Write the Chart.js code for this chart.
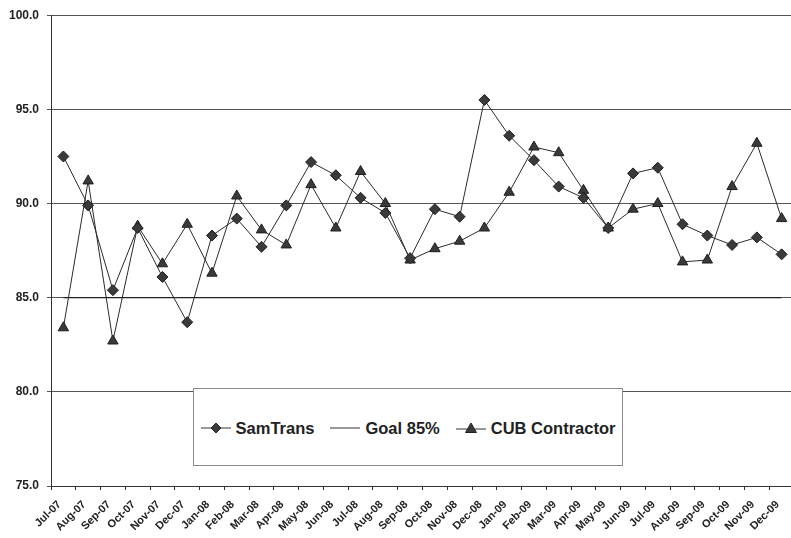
<!DOCTYPE html>
<html>
<head>
<meta charset="utf-8">
<script src="https://cdn.jsdelivr.net/npm/chart.js@4/dist/chart.umd.min.js"></script>
<style>
  html, body { margin: 0; padding: 0; overflow: hidden; background: #fff; }
  #wrap { position: relative; width: 801px; height: 538px; }
  #legend {
    position: absolute; left: 193px; top: 388px; width: 430px; height: 78px;
    box-sizing: border-box; border: 1px solid #8a8a8a; background: #fff;
    display: flex; align-items: center; justify-content: center; gap: 16px;
    padding-top: 2px;
    font: bold 16.5px "Liberation Sans", Arial, sans-serif; color: #222;
  }
  #legend span.item { display: flex; align-items: center; gap: 5px; }
</style>
</head>
<body>
<div id="wrap">
  <canvas id="myChart" width="801" height="538"></canvas>
  <div id="legend">
    <span class="item">
      <svg width="30" height="14"><line x1="0" y1="7" x2="30" y2="7" stroke="#333" stroke-width="1"/><polygon points="15,2 20,7 15,12 10,7" fill="#3a3a3a" stroke="#222"/></svg>
      SamTrans
    </span>
    <span class="item">
      <svg width="30" height="14"><line x1="0" y1="7" x2="30" y2="7" stroke="#333" stroke-width="1"/></svg>
      Goal 85%
    </span>
    <span class="item">
      <svg width="30" height="14"><line x1="0" y1="8" x2="30" y2="8" stroke="#333" stroke-width="1"/><polygon points="15,2 20.5,11.5 9.5,11.5" fill="#3a3a3a" stroke="#222"/></svg>
      CUB Contractor
    </span>
  </div>
</div>
<script>
const months = [
  "Jul-07", "Aug-07", "Sep-07", "Oct-07", "Nov-07", "Dec-07",
  "Jan-08", "Feb-08", "Mar-08", "Apr-08", "May-08", "Jun-08",
  "Jul-08", "Aug-08", "Sep-08", "Oct-08", "Nov-08", "Dec-08",
  "Jan-09", "Feb-09", "Mar-09", "Apr-09", "May-09", "Jun-09",
  "Jul-09", "Aug-09", "Sep-09", "Oct-09", "Nov-09", "Dec-09",
];

const samTrans = [
  92.5, 89.9, 85.4, 88.7, 86.1, 83.7,
  88.3, 89.2, 87.7, 89.9, 92.2, 91.5,
  90.3, 89.5, 87.1, 89.7, 89.3, 95.5,
  93.6, 92.3, 90.9, 90.3, 88.7, 91.6,
  91.9, 88.9, 88.3, 87.8, 88.2, 87.3,
];

const cubContractor = [
  83.4, 91.2, 82.7, 88.8, 86.8, 88.9,
  86.3, 90.4, 88.6, 87.8, 91.0, 88.7,
  91.7, 90.0, 87.0, 87.6, 88.0, 88.7,
  90.6, 93.0, 92.7, 90.7, 88.7, 89.7,
  90.0, 86.9, 87.0, 90.9, 93.2, 89.2,
];

const goalPct = 85;
const yTicks = [75, 80, 85, 90, 95, 100];

const ink = "#2b2b2b";
const font = { family: "'Liberation Sans', Arial, sans-serif", weight: "bold" };

const ctx = document.getElementById("myChart").getContext("2d");

let chart = new Chart(ctx, {
  type: "line",
  data: {
    labels: months,
    datasets: [
      {
        label: "SamTrans",
        data: samTrans,
        borderColor: ink,
        borderWidth: 1,
        pointStyle: "rectRot",
        pointRadius: 5.5,
        pointBackgroundColor: "#3a3a3a",
        pointBorderColor: "#1e1e1e",
        pointBorderWidth: 1,
      },
      {
        label: "Goal 85%",
        data: Array(months.length).fill(goalPct),
        borderColor: "#222",
        borderWidth: 1.2,
        pointRadius: 0,
      },
      {
        label: "CUB Contractor",
        data: cubContractor,
        borderColor: ink,
        borderWidth: 1,
        pointStyle: "triangle",
        pointRadius: 6,
        pointBackgroundColor: "#3a3a3a",
        pointBorderColor: "#1e1e1e",
        pointBorderWidth: 1,
      },
    ],
  },
  options: {
    responsive: false,
    animation: false,
    devicePixelRatio: 1,
    layout: { padding: { top: 14, left: 5, right: 0, bottom: 0 } },
    plugins: { legend: { display: false }, tooltip: { enabled: false } },
    scales: {
      y: {
        min: 75,
        max: 100,
        afterFit: (s) => { s.width = 46; },
        afterBuildTicks: (s) => { s.ticks = yTicks.map((v) => ({ value: v })); },
        ticks: {
          padding: 8,
          color: "#222",
          font: { ...font, size: 12 },
          callback: (v) => Number(v).toFixed(1),
        },
        grid: { color: "#555", lineWidth: 1, tickLength: 4 },
        border: { color: "#333", width: 1 },
      },
      x: {
        offset: true,
        afterFit: (s) => { s.height = 52; },
        ticks: {
          autoSkip: false,
          maxRotation: 45,
          minRotation: 45,
          padding: 8,
          labelOffset: -4,
          color: "#222",
          font: { ...font, size: 11 },
        },
        grid: { offset: true, drawOnChartArea: false, tickLength: 4, color: "#333" },
        border: { color: "#333", width: 1 },
      },
    },
  },
});
</script>
</body>
</html>
